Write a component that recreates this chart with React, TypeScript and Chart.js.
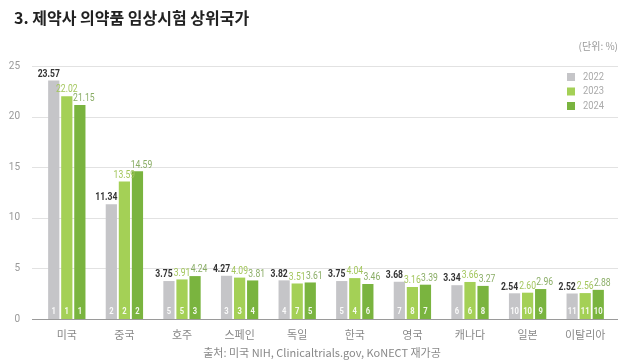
import { useEffect, useRef } from "react";
import { Chart, registerables } from "chart.js";
Chart.register(...registerables);

const titleText = "3. 제약사 의약품 임상시험 상위국가";
const unitText = "(단위: %)";
const sourceText = "출처: 미국 NIH, Clinicaltrials.gov, KoNECT 재가공";
const categories = ["미국", "중국", "호주", "스페인", "독일", "한국", "영국", "캐나다", "일본", "이탈리아"];
const seriesNames = ["2022", "2023", "2024"];
const values2022 = [23.57, 11.34, 3.75, 4.27, 3.82, 3.75, 3.68, 3.34, 2.54, 2.52];
const values2023 = [22.02, 13.59, 3.91, 4.09, 3.51, 4.04, 3.16, 3.66, 2.6, 2.56];
const values2024 = [21.15, 14.59, 4.24, 3.81, 3.61, 3.46, 3.39, 3.27, 2.96, 2.88];
const ranks2022 = [1, 2, 5, 3, 4, 5, 7, 6, 10, 11];
const ranks2023 = [1, 2, 5, 3, 7, 4, 8, 6, 10, 11];
const ranks2024 = [1, 2, 3, 4, 5, 6, 7, 8, 9, 10];
const yTicks = [0, 5, 10, 15, 20, 25];

const barColors = ["#c5c5c8", "#a4d056", "#7ab43f"];
const labelColors = ["#333333", "#a3c65c", "#8aad66"];
const labelWeights = ["bold", "normal", "normal"];
const labelShift = [-5, 0, 4];
const NUM_FONT = "Roboto, 'DejaVu Sans', sans-serif";
const KR_FONT = "'Noto Sans CJK KR', 'Noto Sans', sans-serif";

function condensedText(ctx: any, text: string, x: number, y: number, sx: number) {
  ctx.save();
  ctx.translate(x, y);
  ctx.scale(sx, 1);
  ctx.fillText(text, 0, 0);
  ctx.restore();
}

export default function App() {
  const ref = useRef<HTMLCanvasElement | null>(null);
  useEffect(() => {
    if (!ref.current) return;
    const allValues = [values2022, values2023, values2024];
    const allRanks = [ranks2022, ranks2023, ranks2024];
    const decor = {
      id: "decor",
      beforeDatasetsDraw(chart: any) {
        const ctx = chart.ctx;
        const y = chart.scales.y;
        ctx.save();
        yTicks.forEach((t) => {
          const py = Math.round(y.getPixelForValue(t)) + 0.5;
          ctx.strokeStyle = t === 0 ? "#9a9a9a" : "#e2e2e2";
          ctx.lineWidth = 1;
          ctx.beginPath();
          ctx.moveTo(32, py);
          ctx.lineTo(618, py);
          ctx.stroke();
        });
        ctx.restore();
      },
      afterDatasetsDraw(chart: any) {
        const ctx = chart.ctx;
        ctx.save();
        for (let d = 0; d < 3; d++) {
          const meta = chart.getDatasetMeta(d);
          meta.data.forEach((bar: any, i: number) => {
            ctx.textAlign = "center";
            ctx.textBaseline = "bottom";
            ctx.fillStyle = labelColors[d];
            ctx.font = `${labelWeights[d]} 11px ${NUM_FONT}`;
            condensedText(ctx, allValues[d][i].toFixed(2), bar.x + labelShift[d], bar.y - 1, 0.78);
            ctx.fillStyle = "rgba(255,255,255,0.9)";
            ctx.font = `bold 9px ${NUM_FONT}`;
            ctx.textBaseline = "middle";
            condensedText(ctx, String(allRanks[d][i]), bar.x, bar.base - 7, 0.85);
          });
        }
        ctx.restore();
      },
      afterDraw(chart: any) {
        const ctx = chart.ctx;
        ctx.save();
        ctx.fillStyle = "#222222";
        ctx.font = `bold 16px ${KR_FONT}`;
        ctx.textAlign = "left";
        ctx.textBaseline = "middle";
        ctx.fillText(titleText, 14, 18);
        ctx.fillStyle = "#999999";
        ctx.font = `10px ${KR_FONT}`;
        ctx.textAlign = "right";
        ctx.fillText(unitText, 618, 46);
        seriesNames.forEach((name, k) => {
          const ly = 77 + k * 14.5;
          ctx.fillStyle = barColors[k];
          ctx.fillRect(567, ly - 4, 8, 8);
          ctx.fillStyle = "#aaaaaa";
          ctx.font = `11px ${NUM_FONT}`;
          ctx.textAlign = "left";
          condensedText(ctx, name, 583, ly, 0.85);
        });
        ctx.fillStyle = "#888888";
        ctx.font = `11px ${KR_FONT}`;
        ctx.textAlign = "center";
        ctx.fillText(sourceText, 322, 353);
        ctx.restore();
      },
    };
    const chart = new Chart(ref.current, {
      type: "bar",
      data: {
        labels: categories,
        datasets: seriesNames.map((name, k) => ({
          label: name,
          data: allValues[k],
          backgroundColor: barColors[k],
          barPercentage: 0.86,
          categoryPercentage: 0.68,
        })),
      },
      options: {
        animation: false,
        responsive: true,
        maintainAspectRatio: false,
        layout: { padding: { top: 66, right: 26, left: 0, bottom: 0 } },
        plugins: { legend: { display: false }, tooltip: { enabled: false }, title: { display: false } },
        scales: {
          x: {
            grid: { display: false },
            border: { display: false },
            ticks: { color: "#888888", font: { size: 11, family: KR_FONT }, padding: 1 },
            afterFit: (s: any) => { s.height = 41; },
          },
          y: {
            min: 0,
            max: 25,
            grid: { display: false },
            border: { display: false },
            ticks: { stepSize: 5, color: "#999999", font: { size: 10, family: NUM_FONT }, padding: 10 },
            afterFit: (s: any) => { s.width = 38; },
          },
        },
      },
      plugins: [decor],
    });
    return () => chart.destroy();
  }, []);
  return (
    <div style={{ position: "fixed", left: 0, top: 0, width: 640, height: 360, background: "#fff" }}>
      <canvas ref={ref} />
    </div>
  );
}
